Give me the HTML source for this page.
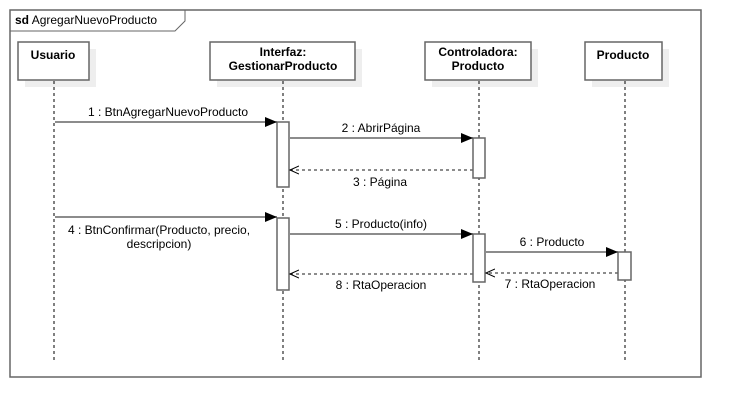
<!DOCTYPE html>
<html><head><meta charset="utf-8"><style>
html,body{margin:0;padding:0;background:#fff;width:741px;height:418px;overflow:hidden}
svg text{font-family:"Liberation Sans",Arial,sans-serif;font-size:12px;fill:#000}
</style></head><body>
<svg width="741" height="418" xmlns="http://www.w3.org/2000/svg">
<defs>
<marker id="f" markerWidth="12" markerHeight="10" refX="12" refY="5" orient="auto" markerUnits="userSpaceOnUse"><path d="M0,0 L12,5 L0,10 z" fill="#000"/></marker>
<marker id="o" markerWidth="10" markerHeight="10" refX="9" refY="5" orient="auto" markerUnits="userSpaceOnUse"><path d="M0,1 L9,5 L0,9" fill="none" stroke="#000" stroke-width="1"/></marker>
</defs>
<rect x="10" y="10" width="691" height="367" fill="#fff" stroke="#666" stroke-width="1.5"/>
<path d="M10,31 L175,31 L185,21 L185,10" fill="none" stroke="#666" stroke-width="1"/>
<text x="15" y="24"><tspan font-weight="bold">sd</tspan>  AgregarNuevoProducto</text>
<!-- shadows -->
<rect x="25" y="49" width="71" height="38" fill="#eee"/>
<rect x="217" y="49" width="145" height="38" fill="#eee"/>
<rect x="432" y="49" width="106" height="38" fill="#eee"/>
<rect x="592" y="49" width="77" height="38" fill="#eee"/>
<!-- boxes -->
<g fill="#fff" stroke="#666" stroke-width="1.5">
<rect x="18" y="42" width="71" height="38"/>
<rect x="210" y="42" width="145" height="38"/>
<rect x="425" y="42" width="106" height="38"/>
<rect x="585" y="42" width="77" height="38"/>
</g>
<g text-anchor="middle">
<text x="53" y="59" font-weight="bold">Usuario</text>
<text x="283" y="56" font-weight="bold">Interfaz:</text>
<text x="283" y="70" font-weight="bold">GestionarProducto</text>
<text x="478" y="56" font-weight="bold">Controladora:</text>
<text x="478" y="70" font-weight="bold">Producto</text>
<text x="623" y="59" font-weight="bold">Producto</text>
</g>
<!-- lifelines -->
<g stroke="#000" stroke-width="1" stroke-dasharray="3,3">
<line x1="54" y1="81" x2="54" y2="360"/>
<line x1="283" y1="81" x2="283" y2="360"/>
<line x1="479" y1="81" x2="479" y2="360"/>
<line x1="625" y1="81" x2="625" y2="360"/>
</g>
<!-- activations -->
<g fill="#fff" stroke="#666" stroke-width="1.5">
<rect x="277" y="122" width="12" height="65"/>
<rect x="473" y="138" width="12" height="40"/>
<rect x="277" y="218" width="12" height="72"/>
<rect x="473" y="234" width="12" height="48"/>
<rect x="618" y="252" width="13" height="28"/>
</g>
<!-- messages -->
<g stroke="#666" stroke-width="1.5" fill="none">
<line x1="55" y1="122" x2="277" y2="122" marker-end="url(#f)"/>
<line x1="290" y1="138" x2="473" y2="138" marker-end="url(#f)"/>
<line x1="473" y1="170" x2="290" y2="170" stroke-dasharray="3,3" marker-end="url(#o)"/>
<line x1="55" y1="217" x2="277" y2="217" marker-end="url(#f)"/>
<line x1="290" y1="234" x2="473" y2="234" marker-end="url(#f)"/>
<line x1="486" y1="252" x2="618" y2="252" marker-end="url(#f)"/>
<line x1="618" y1="273" x2="486" y2="273" stroke-dasharray="3,3" marker-end="url(#o)"/>
<line x1="473" y1="274" x2="290" y2="274" stroke-dasharray="3,3" marker-end="url(#o)"/>
</g>
<g text-anchor="middle">
<text x="168" y="116">1 : BtnAgregarNuevoProducto</text>
<text x="381" y="132">2 : AbrirPágina</text>
<text x="380" y="186">3 : Página</text>
<text x="159" y="234">4 : BtnConfirmar(Producto, precio,</text>
<text x="159" y="248">descripcion)</text>
<text x="381" y="228">5 : Producto(info)</text>
<text x="552" y="246">6 : Producto</text>
<text x="550" y="288">7 : RtaOperacion</text>
<text x="381" y="289">8 : RtaOperacion</text>
</g>
</svg>
</body></html>
